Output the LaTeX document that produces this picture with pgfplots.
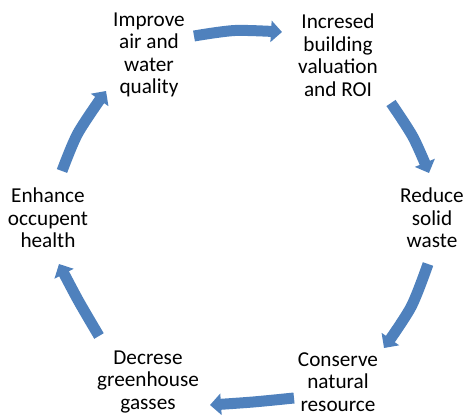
\documentclass[border=0pt]{standalone}
\usepackage{pgfplots}
\pgfplotsset{compat=1.18}
\usepackage{fontspec}
\setmainfont{Carlito}
\usetikzlibrary{arrows.meta}
\definecolor{cyc}{RGB}{79,129,189}
\tikzset{lbl/.style={align=center, font=\fontsize{21.3}{22.6}\selectfont, text=black, inner sep=0pt}}
\begin{document}
\begin{tikzpicture}
\begin{axis}[
  width=473bp, height=418bp, scale only axis,
  xmin=0, xmax=473, ymin=0, ymax=418, y dir=reverse,
  hide axis, clip=false,
]
\path (axis cs:0,0) rectangle (axis cs:473,418);
% arrows
\addplot[smooth, draw=cyc, line width=11bp, -{Triangle[width=21bp,length=11bp]}]
  coordinates {(194,36) (235,30.5) (282,32)};
\addplot[smooth, draw=cyc, line width=11bp, -{Triangle[width=21bp,length=11bp]}]
  coordinates {(391,103) (413,137) (429,173)};
\addplot[smooth, draw=cyc, line width=11bp, -{Triangle[width=21bp,length=11bp]}]
  coordinates {(428,264) (411,307) (384,348)};
\addplot[smooth, draw=cyc, line width=11bp, -{Triangle[width=21bp,length=11bp]}]
  coordinates {(294,398) (253,402) (210,405)};
\addplot[smooth, draw=cyc, line width=11bp, -{Triangle[width=21bp,length=11bp]}]
  coordinates {(99,336) (78,300) (59,264)};
\addplot[smooth, draw=cyc, line width=11bp, -{Triangle[width=21bp,length=11bp]}]
  coordinates {(62,171) (78,133) (106,91)};
% labels
\node[lbl] at (axis cs:149,55) {Improve\\air and\\water\\quality};
\node[lbl] at (axis cs:338,55) {Incresed\\building\\valuation\\and ROI};
\node[lbl] at (axis cs:432,218) {Reduce\\solid\\waste};
\node[lbl] at (axis cs:338,382) {Conserve\\natural\\resource};
\node[lbl] at (axis cs:148,382) {Decrese\\greenhouse\\gasses};
\node[lbl] at (axis cs:48,218) {Enhance\\occupent\\health};
\end{axis}
\end{tikzpicture}
\end{document}
